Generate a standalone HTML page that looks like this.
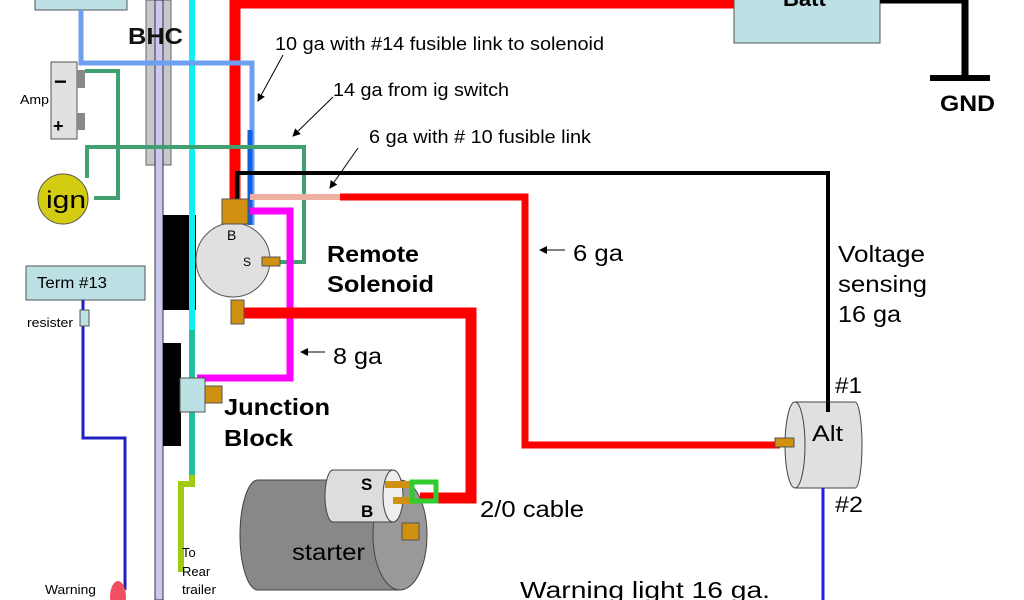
<!DOCTYPE html>
<html><head><meta charset="utf-8"><style>html,body{margin:0;padding:0;background:#fff}svg{display:block}text{font-family:"Liberation Sans",Arial,sans-serif}</style></head><body>
<svg width="1024" height="600" viewBox="0 0 1024 600" xmlns="http://www.w3.org/2000/svg">
<defs><marker id="ar" markerWidth="8" markerHeight="8" refX="7" refY="4" orient="auto"><path d="M0,0 L8,4 L0,8 z" fill="#000"/></marker></defs>
<rect width="1024" height="600" fill="#fff"/>
<rect x="35" y="-5" width="92" height="15" fill="#bde0e4" stroke="#555"/>
<rect x="146" y="0" width="25" height="165" fill="#c8c8cc" stroke="#666"/>
<rect x="155" y="0" width="8" height="600" fill="#c8c8f0" stroke="#333" stroke-width="1"/>
<text x="128" y="44" font-size="23" font-weight="bold" fill="#111" textLength="55" lengthAdjust="spacingAndGlyphs">BHC</text>
<rect x="163" y="215" width="33" height="95" fill="#000"/>
<rect x="163" y="343" width="18" height="103" fill="#000"/>
<line x1="192" y1="0" x2="192" y2="330" stroke="#10f0f0" stroke-width="6"/>
<line x1="192" y1="330" x2="192" y2="475" stroke="#20c0a0" stroke-width="6"/>
<polyline points="192,475 192,484 181,484 181,572" fill="none" stroke="#a0cc10" stroke-width="6"/>
<polyline points="235,205 235,3 736,3" fill="none" stroke="#f00" stroke-width="11"/>
<polyline points="81,10 81,63 252,63 252,225" fill="none" stroke="#6fa0f0" stroke-width="5"/>
<line x1="250" y1="130" x2="250" y2="225" stroke="#1060e0" stroke-width="5"/>
<rect x="51" y="62" width="26" height="77" fill="#e0e0e0" stroke="#555"/>
<rect x="77" y="70" width="8" height="18" fill="#888"/>
<rect x="77" y="113" width="8" height="17" fill="#888"/>
<text x="54" y="89" font-size="22" font-weight="bold">−</text>
<text x="53" y="132" font-size="18" font-weight="bold">+</text>
<text x="20" y="104" font-size="13" textLength="29" lengthAdjust="spacingAndGlyphs">Amp</text>
<polyline points="85,71 118,71 118,198 94,198" fill="none" stroke="#40a070" stroke-width="4"/>
<polyline points="87,178 87,147 304,147 304,262 280,262" fill="none" stroke="#40a070" stroke-width="4"/>
<circle cx="63" cy="199" r="25" fill="#d4cc10" stroke="#555"/>
<text x="46" y="208" font-size="24" textLength="40" lengthAdjust="spacingAndGlyphs">ign</text>
<polyline points="237,205 237,173 828,173 828,410" fill="none" stroke="#000" stroke-width="4"/>
<line x1="250" y1="197" x2="341" y2="197" stroke="#f0b0a0" stroke-width="6"/>
<polyline points="340,197 525,197 525,445 780,445" fill="none" stroke="#f00" stroke-width="7"/>
<polyline points="250,211 290,211 290,378 197,378" fill="none" stroke="#f0f" stroke-width="7"/>
<polyline points="244,313 471,313 471,498 420,498" fill="none" stroke="#f00" stroke-width="11"/>
<circle cx="233" cy="260" r="37" fill="#e0e0e0" stroke="#555"/>
<rect x="222" y="199" width="26" height="25" fill="#d09010" stroke="#555"/>
<text x="227" y="240" font-size="14">B</text>
<text x="243" y="266" font-size="12">S</text>
<rect x="262" y="257" width="18" height="9" fill="#d09010" stroke="#555"/>
<rect x="231" y="300" width="13" height="24" fill="#d09010" stroke="#555"/>
<text x="327" y="262" font-size="23" font-weight="bold" textLength="92" lengthAdjust="spacingAndGlyphs">Remote</text>
<text x="327" y="292" font-size="23" font-weight="bold" textLength="107" lengthAdjust="spacingAndGlyphs">Solenoid</text>
<rect x="180" y="378" width="25" height="34" fill="#bde0e4" stroke="#555"/>
<rect x="205" y="386" width="17" height="17" fill="#d09010" stroke="#555"/>
<text x="224" y="415" font-size="23" font-weight="bold" textLength="106" lengthAdjust="spacingAndGlyphs">Junction</text>
<text x="224" y="446" font-size="23" font-weight="bold" textLength="69" lengthAdjust="spacingAndGlyphs">Block</text>
<path d="M400,480 L258,480 A18,55 0 0 0 258,590 L400,590" fill="#888" stroke="#444"/>
<ellipse cx="400" cy="535" rx="27" ry="55" fill="#999" stroke="#444"/>
<path d="M393,470 L333,470 A8,26 0 0 0 333,522 L393,522" fill="#ddd" stroke="#444"/>
<ellipse cx="393" cy="496" rx="10" ry="26" fill="#eee" stroke="#444"/>
<text x="361" y="490" font-size="17" font-weight="bold">S</text>
<text x="361" y="517" font-size="17" font-weight="bold">B</text>
<rect x="385" y="481" width="25" height="7" fill="#d09010"/>
<rect x="393" y="497" width="22" height="7" fill="#d09010"/>
<rect x="412" y="482" width="24" height="19" fill="none" stroke="#30cc30" stroke-width="5"/>
<rect x="402" y="523" width="17" height="17" fill="#d09010" stroke="#555"/>
<text x="292" y="560" font-size="23" textLength="73" lengthAdjust="spacingAndGlyphs">starter</text>
<text x="480" y="517" font-size="23" textLength="104" lengthAdjust="spacingAndGlyphs">2/0 cable</text>
<path d="M795,402 L855,402 A7,43 0 0 1 855,488 L795,488" fill="#e0e0e0" stroke="#444"/>
<ellipse cx="795" cy="445" rx="10" ry="43" fill="#e0e0e0" stroke="#444"/>
<line x1="828" y1="402" x2="828" y2="412" stroke="#000" stroke-width="4"/>
<text x="812" y="441" font-size="22" textLength="31" lengthAdjust="spacingAndGlyphs">Alt</text>
<rect x="775" y="438" width="19" height="9" fill="#d09010" stroke="#555"/>
<text x="835" y="393" font-size="22" textLength="27" lengthAdjust="spacingAndGlyphs">#1</text>
<text x="835" y="512" font-size="22" textLength="28" lengthAdjust="spacingAndGlyphs">#2</text>
<line x1="823" y1="488" x2="823" y2="600" stroke="#2020e0" stroke-width="3"/>
<rect x="734" y="-5" width="146" height="48" fill="#bde0e4" stroke="#555"/>
<text x="783" y="6" font-size="22" font-weight="bold">Batt</text>
<polyline points="880,0 965,0 965,77" fill="none" stroke="#000" stroke-width="7"/>
<rect x="930" y="75" width="60" height="6" fill="#000"/>
<text x="940" y="111" font-size="22" font-weight="bold" textLength="55" lengthAdjust="spacingAndGlyphs">GND</text>
<rect x="26" y="266" width="119" height="34" fill="#bde0e4" stroke="#555"/>
<text x="37" y="288" font-size="16" textLength="70" lengthAdjust="spacingAndGlyphs">Term #13</text>
<polyline points="83,300 83,438 125,438 125,590" fill="none" stroke="#2020c0" stroke-width="3"/>
<rect x="80" y="310" width="9" height="16" fill="#bde0e4" stroke="#555"/>
<text x="27" y="327" font-size="13" textLength="46" lengthAdjust="spacingAndGlyphs">resister</text>
<ellipse cx="118" cy="597" rx="8" ry="16" fill="#f05060"/>
<text x="45" y="594" font-size="13" textLength="51" lengthAdjust="spacingAndGlyphs">Warning</text>
<text x="182" y="557" font-size="13">To</text>
<text x="182" y="576" font-size="13">Rear</text>
<text x="182" y="594" font-size="13" textLength="34" lengthAdjust="spacingAndGlyphs">trailer</text>
<text x="275" y="50" font-size="18" textLength="329" lengthAdjust="spacingAndGlyphs">10 ga with #14 fusible link to solenoid</text>
<line x1="283" y1="55" x2="258" y2="101" stroke="#000" marker-end="url(#ar)"/>
<text x="333" y="96" font-size="18" textLength="176" lengthAdjust="spacingAndGlyphs">14 ga from ig switch</text>
<line x1="333" y1="97" x2="293" y2="136" stroke="#000" marker-end="url(#ar)"/>
<text x="369" y="143" font-size="18" textLength="222" lengthAdjust="spacingAndGlyphs">6 ga with # 10 fusible link</text>
<line x1="358" y1="148" x2="330" y2="188" stroke="#000" marker-end="url(#ar)"/>
<line x1="565" y1="250" x2="540" y2="250" stroke="#000" marker-end="url(#ar)"/>
<text x="573" y="261" font-size="23" textLength="50" lengthAdjust="spacingAndGlyphs">6 ga</text>
<line x1="325" y1="352" x2="301" y2="352" stroke="#000" marker-end="url(#ar)"/>
<text x="333" y="364" font-size="23" textLength="49" lengthAdjust="spacingAndGlyphs">8 ga</text>
<text x="838" y="262" font-size="23" textLength="87" lengthAdjust="spacingAndGlyphs">Voltage</text>
<text x="838" y="292" font-size="23" textLength="89" lengthAdjust="spacingAndGlyphs">sensing</text>
<text x="838" y="322" font-size="23" textLength="63" lengthAdjust="spacingAndGlyphs">16 ga</text>
<text x="520" y="598" font-size="23" textLength="250" lengthAdjust="spacingAndGlyphs">Warning light  16 ga.</text>
</svg>
</body></html>
